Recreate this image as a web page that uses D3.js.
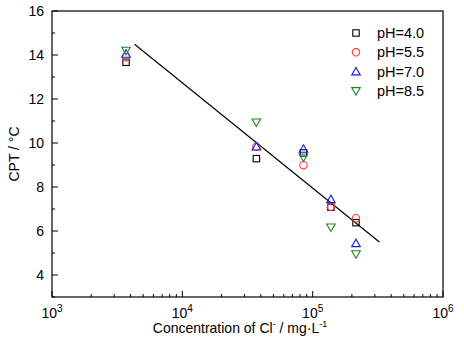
<!DOCTYPE html>
<html>
<head>
<meta charset="utf-8">
<script src="https://cdn.jsdelivr.net/npm/d3@7"></script>
<style>
  body { margin: 0; background: #fff; }
  text { font-family: Arial, "Liberation Sans", sans-serif; }
</style>
</head>
<body>
<div id="chart"></div>
<script>
// Cl- concentration (mg/L), five levels
var conc = [3700, 37000, 85000, 138000, 215000];

// CPT values per pH
var ph40 = [13.67, 9.29, 9.55, 7.08, 6.38];
var ph55 = [13.9, 9.83, 8.99, 7.1, 6.58];
var ph70 = [14.05, 9.83, 9.73, 7.44, 5.44];
var ph85 = [14.2, 10.94, 9.35, 6.17, 4.95];

var seriesNames = ["pH=4.0", "pH=5.5", "pH=7.0", "pH=8.5"];
var seriesColors = ["#000000", "#ff3333", "#1a1aff", "#1a8a1a"];
var seriesShapes = ["square", "circle", "up", "down"];

// fitted line end points
var fitX = [4300, 325000];
var fitY = [14.49, 5.5];

var yTicks = [4, 6, 8, 10, 12, 14, 16];
var xDecades = [3, 4, 5, 6];

var svgWidth = 464, svgHeight = 348;
var margin = { top: 11, right: 21, bottom: 51, left: 52 };
var chartWidth = svgWidth - margin.left - margin.right;
var chartHeight = svgHeight - margin.top - margin.bottom;

var svg = d3.select("#chart").append("svg")
    .attr("width", svgWidth)
    .attr("height", svgHeight);

var chartGroup = svg.append("g")
    .attr("transform", `translate(${margin.left}, ${margin.top})`);

var x = d3.scaleLog().domain([1e3, 1e6]).range([0, chartWidth]);
var y = d3.scaleLinear().domain([3, 16]).range([chartHeight, 0]);

// minor ticks on x (2..9 per decade)
var xMinor = [];
xDecades.slice(0, 3).forEach(function(e) {
  for (var k = 2; k <= 9; k++) xMinor.push(k * Math.pow(10, e));
});
var yMinor = [3, 5, 7, 9, 11, 13, 15];

chartGroup.selectAll(".xminor").data(xMinor).enter().append("line")
    .attr("x1", d => x(d)).attr("x2", d => x(d))
    .attr("y1", chartHeight).attr("y2", chartHeight - 3)
    .attr("stroke", "#000");
chartGroup.selectAll(".xmajor").data(xDecades).enter().append("line")
    .attr("x1", d => x(Math.pow(10, d))).attr("x2", d => x(Math.pow(10, d)))
    .attr("y1", chartHeight).attr("y2", chartHeight - 6)
    .attr("stroke", "#000");
chartGroup.selectAll(".yminor").data(yMinor).enter().append("line")
    .attr("x1", 0).attr("x2", 3)
    .attr("y1", d => y(d)).attr("y2", d => y(d))
    .attr("stroke", "#000");
chartGroup.selectAll(".ymajor").data(yTicks).enter().append("line")
    .attr("x1", 0).attr("x2", 6)
    .attr("y1", d => y(d)).attr("y2", d => y(d))
    .attr("stroke", "#000");

// y tick labels
chartGroup.selectAll(".ylab").data(yTicks).enter().append("text")
    .attr("x", -8).attr("y", d => y(d) + 5)
    .attr("text-anchor", "end")
    .style("font-size", "14px")
    .text(d => d);

// x tick labels 10^n
var xl = chartGroup.selectAll(".xlab").data(xDecades).enter().append("text")
    .attr("x", d => x(Math.pow(10, d)))
    .attr("y", chartHeight + 21)
    .attr("text-anchor", "middle")
    .style("font-size", "14px");
xl.append("tspan").text("10");
xl.append("tspan").attr("dy", -6).style("font-size", "10px").text(d => d);

// frame
chartGroup.append("rect")
    .attr("width", chartWidth).attr("height", chartHeight)
    .attr("fill", "none").attr("stroke", "#000").attr("stroke-width", 1.2);

// axis titles
var xt = svg.append("text")
    .attr("x", 240).attr("y", 333)
    .attr("text-anchor", "middle")
    .style("font-size", "14px");
xt.append("tspan").text("Concentration of Cl");
xt.append("tspan").attr("dy", -6).style("font-size", "9px").text("-");
xt.append("tspan").attr("dy", 6).text(" / mg\u00b7L");
xt.append("tspan").attr("dy", -6).style("font-size", "9px").text("-1");

svg.append("text")
    .attr("transform", "translate(19, 154) rotate(-90)")
    .attr("text-anchor", "middle")
    .style("font-size", "14px")
    .text("CPT / \u00b0C");

// fitted line
var fitData = fitX.map((d, i) => [d, fitY[i]]);
chartGroup.append("path")
    .datum(fitData)
    .attr("d", d3.line().x(d => x(d[0])).y(d => y(d[1])))
    .attr("stroke", "#000").attr("stroke-width", 1.2).attr("fill", "none");

// marker drawing
function marker(g, shape, color) {
  if (shape === "square") {
    g.append("rect").attr("x", -3.2).attr("y", -3.2).attr("width", 6.4).attr("height", 6.4);
  } else if (shape === "circle") {
    g.append("circle").attr("r", 3.7);
  } else if (shape === "up") {
    g.append("path").attr("d", "M0,-4.2L4.3,3.3L-4.3,3.3Z");
  } else {
    g.append("path").attr("d", "M0,4.2L4.3,-3.3L-4.3,-3.3Z");
  }
  g.selectAll("*").attr("fill", "none").attr("stroke", color).attr("stroke-width", 1.1);
}

var allSeries = [ph40, ph55, ph70, ph85];
allSeries.forEach(function(vals, si) {
  vals.forEach(function(v, i) {
    var g = chartGroup.append("g")
        .attr("transform", `translate(${x(conc[i])}, ${y(v)})`);
    marker(g, seriesShapes[si], seriesColors[si]);
  });
});

// legend
seriesNames.forEach(function(name, i) {
  var ly = 33 + i * 19.3;
  var g = svg.append("g").attr("transform", `translate(356, ${ly})`);
  marker(g, seriesShapes[i], seriesColors[i]);
  svg.append("text")
      .attr("x", 377).attr("y", ly + 5)
      .style("font-size", "14.5px")
      .text(name);
});
</script>
</body>
</html>
